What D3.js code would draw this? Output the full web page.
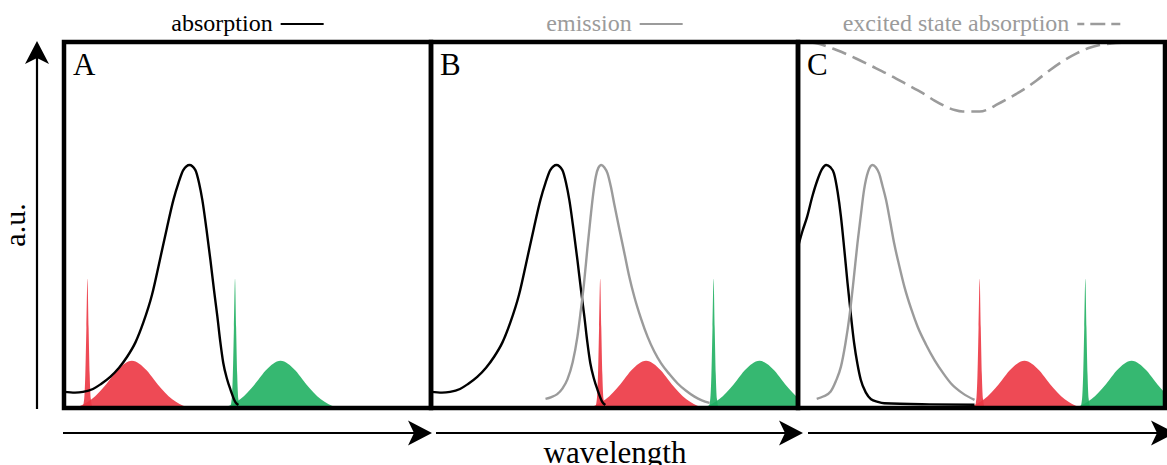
<!DOCTYPE html>
<html>
<head>
<meta charset="utf-8">
<script src="https://cdn.jsdelivr.net/npm/d3@7"></script>
<style>
  body { margin: 0; background: #fff; }
  svg { display: block; }
  text { font-family: "Liberation Serif", "Times New Roman", serif; }
</style>
</head>
<body>
<svg id="chart" width="1167" height="465"></svg>
<script>
// ---- data (wavelength 0-100 across each panel, a.u. 0-100 up the panel) ----
const panelNames = ["A", "B", "C"];
const legendLabels = ["absorption", "emission", "excited state absorption"];
const xLabel = "wavelength";
const yLabel = "a.u.";

// absorption, same in panels A and B
const absorptionAB = [[0,4.4],[3,4.2],[5.2,4.4],[7.9,5.2],[10,6.5],[12.6,8.5],[15,11],[17.2,14],
  [19.5,18],[21.6,23.3],[24,31],[26.2,40.8],[28,49],[29.8,56.8],[31.2,61.5],[32.5,65],[34.2,66.4],
  [35.8,65],[36.8,61.5],[37.7,56.8],[38.8,49],[39.9,40.4],[40.9,32],[41.8,24.9],[42.6,18],
  [43.4,12.3],[44.4,8],[45.4,4.9],[46.7,1.6],[47.5,0.8]];
const emissionB = [[31.2,2.5],[32.8,3.0],[34.4,3.8],[35.8,5.3],[37.2,7.9],[38.6,12.5],[39.9,19.5],
  [40.8,26.5],[41.7,34.1],[42.6,43.5],[43.5,52.3],[44.2,58.5],[44.9,63.2],[45.6,65.6],[46.4,66.4],
  [47.2,65.8],[48.1,64.1],[49,60.5],[49.9,55.9],[51.3,49],[52.7,42.3],[54,36],[55.4,30.4],
  [57.2,24.5],[59,19.5],[60.8,15.5],[62.7,12.2],[65,9.2],[67.2,6.7],[69.5,4.7],[71.8,3.1],
  [73.8,2.1],[75.9,1.4]];
const absorptionC = [[0,44],[1.2,48.3],[2.5,52.3],[3.9,57.8],[5.3,62.3],[6.5,65.2],[7.7,66.4],
  [8.8,65.8],[9.8,64.1],[10.8,59],[11.7,52.3],[12.6,43.5],[13.5,34.1],[14.4,25.5],[15.3,17.7],
  [16.2,12],[17.1,7.7],[18.5,4.2],[19.9,2.4],[21.7,1.7],[23.5,1.3],[35.8,1.0],[48.1,0.9]];
const emissionC = [[5.1,2.5],[7,3.2],[8.9,4.5],[10.3,7.3],[11.7,11.3],[12.9,17.5],[14,24.9],
  [15.1,34.5],[16.2,45],[17.1,52.5],[18,59.6],[19.1,64.6],[20.3,66.4],[21.2,65.8],[22.1,64.1],
  [23,60.8],[24,56.8],[25.1,51],[26.2,45],[27.6,38.8],[29,33.1],[30.8,27.2],[32.6,22.2],
  [34.9,17.3],[37.2,13.1],[39.5,9.6],[41.7,6.7],[44.9,4.0],[48.1,2.2]];
const esaC = [[3.6,99.9],[5.3,99.6],[10.5,97.8],[15.8,95.5],[20.3,93.3],[24.9,91.0],[29.5,88.5],
  [34.0,86.0],[37.2,84],[40.4,82.3],[42.7,81.4],[44.9,81.0],[49.5,81.0],[51.8,81.6],[54.0,82.8],
  [57.7,84.8],[61.3,86.9],[65,89.5],[68.6,92.3],[72.2,94.8],[75.9,96.9],[79,98.3],[82.2,99.2],
  [85.4,99.6],[88.6,99.8]];

// laser line and filter band shapes (offset from their centre, height)
const spikeShape = [[-1.4,0],[-0.9,2.5],[-0.6,9],[-0.3,22],[0,35.3],[0.3,22],[0.6,9],[0.9,2.5],[1.4,0]];
const bandShape = [[-16,0],[-14,0.6],[-12,1.7],[-10,3.2],[-8,5.3],[-6,7.8],[-4,10.3],[-2,12.1],
  [0,12.9],[2,12.1],[4,10.3],[6,7.8],[8,5.3],[10,3.2],[12,1.7],[14,0.6],[16,0]];
const redSpikeAt   = [6.4, 46.1, 49.5];
const redBandAt    = [18.5, 58.6, 61.7];
const greenSpikeAt = [46.6, 77.0, 78.3];
const greenBandAt  = [59.0, 89.5, 90.9];

const panelCurves = [
  [{ pts: absorptionAB, kind: 0 }],
  [{ pts: absorptionAB, kind: 0 }, { pts: emissionB, kind: 1 }],
  [{ pts: absorptionC, kind: 0 }, { pts: emissionC, kind: 1 }, { pts: esaC, kind: 2 }]
];

// ---- drawing ----
const chart = d3.select("#chart");
const lineColor = ["#000000", "#9b9b9b", "#9b9b9b"];
const red = "#ec3642", green = "#20b062";

let panelX = d3.scaleLinear().domain([0, 3]).range([64, 1165]);
let y = d3.scaleLinear().domain([0, 100]).range([408, 42]);

// arrow marker-like heads drawn as paths
function arrowHead(g, tipX, tipY, dir) {
  // dir: "up" or "right"
  let p = dir == "up"
    ? [[tipX, tipY], [tipX + 12, tipY + 23], [tipX, tipY + 17], [tipX - 12, tipY + 23]]
    : [[tipX, tipY], [tipX - 24, tipY - 12.5], [tipX - 18, tipY], [tipX - 24, tipY + 12.5]];
  g.append("path").attr("d", "M" + p.join("L") + "Z").attr("fill", "#000");
}

panelNames.forEach(function (name, i) {
  let left = panelX(i), right = panelX(i + 1);
  let x = d3.scaleLinear().domain([0, 100]).range([left, right]);
  let g = chart.append("g");

  g.append("clipPath").attr("id", "clip" + i)
    .append("rect").attr("x", left).attr("y", 42).attr("width", right - left).attr("height", 366);
  let inner = g.append("g").attr("clip-path", "url(#clip" + i + ")");

  let area = function (center) {
    return d3.area()
      .x(d => x(center + d[0]))
      .y0(y(0))
      .y1(d => y(d[1]))
      .curve(d3.curveMonotoneX);
  };

  // filter bands then laser lines
  [[redBandAt[i], bandShape, red], [greenBandAt[i], bandShape, green],
   [redSpikeAt[i], spikeShape, red], [greenSpikeAt[i], spikeShape, green]].forEach(function (b) {
    inner.append("path")
      .datum(b[1])
      .attr("d", area(b[0]))
      .attr("fill", b[2])
      .attr("fill-opacity", 0.9);
  });

  let line = d3.line().x(d => x(d[0])).y(d => y(d[1])).curve(d3.curveMonotoneX);
  panelCurves[i].forEach(function (c) {
    inner.append("path")
      .datum(c.pts)
      .attr("d", line)
      .attr("fill", "none")
      .attr("stroke", lineColor[c.kind])
      .attr("stroke-width", c.kind == 2 ? 2.6 : 2.4)
      .attr("stroke-dasharray", c.kind == 2 ? "15,7" : null);
  });

  // panel frame
  g.append("rect")
    .attr("x", left).attr("y", 42)
    .attr("width", right - left).attr("height", 366)
    .attr("fill", "none")
    .attr("stroke", "#000")
    .attr("stroke-width", 4.5);

  // panel letter
  g.append("text")
    .text(name)
    .attr("x", left + 9)
    .attr("y", 75)
    .style("font-size", "31px");

  // legend above the panel
  let center = (left + right) / 2;
  let lt = chart.append("text")
    .text(legendLabels[i])
    .attr("y", 31)
    .attr("fill", lineColor[i])
    .style("font-size", "24px");
  let tw = lt.node().getComputedTextLength();
  let start = center - (tw + 51) / 2;
  lt.attr("x", start);
  chart.append("line")
    .attr("x1", start + tw + 8).attr("x2", start + tw + 51)
    .attr("y1", 24).attr("y2", 24)
    .attr("stroke", lineColor[i])
    .attr("stroke-width", i == 2 ? 2.6 : 2.2)
    .attr("stroke-dasharray", i == 2 ? "15,6" : null)
    .attr("stroke-dashoffset", i == 2 ? 8 : null);
});

// wavelength arrows under the panels
let arrows = chart.append("g");
[[63, 432], [436, 803], [808, 1175]].forEach(function (a) {
  arrows.append("line")
    .attr("x1", a[0]).attr("x2", a[1] - 10)
    .attr("y1", 433).attr("y2", 433)
    .attr("stroke", "#000").attr("stroke-width", 2.2);
  arrowHead(arrows, a[1], 433, "right");
});

// a.u. arrow
arrows.append("line")
  .attr("x1", 37).attr("x2", 37)
  .attr("y1", 409).attr("y2", 52)
  .attr("stroke", "#000").attr("stroke-width", 2.2);
arrowHead(arrows, 37, 41, "up");

// axis labels
chart.append("text")
  .text(xLabel)
  .attr("x", 615)
  .attr("y", 463)
  .style("font-size", "31px")
  .style("text-anchor", "middle");

chart.append("text")
  .text(yLabel)
  .attr("transform", "translate(25,225) rotate(-90)")
  .style("font-size", "30px")
  .style("text-anchor", "middle");
</script>
</body>
</html>
